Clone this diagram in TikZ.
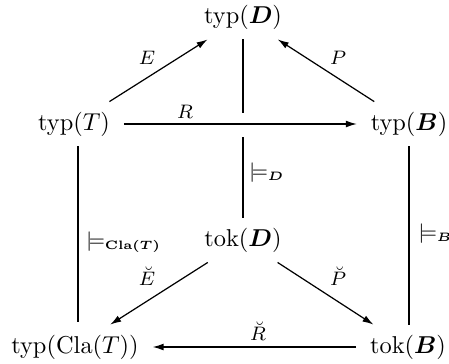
\documentclass[tikz,border=0pt]{standalone}
\usepackage{amsmath,amssymb,bm}
\usetikzlibrary{arrows.meta}
\begin{document}
\begin{tikzpicture}[x=0.41pt,y=-0.41pt,
  obj/.style={inner xsep=5.5pt,inner ysep=4pt},
  lab/.style={inner sep=0pt,font=\fontsize{7.8pt}{9pt}\selectfont},
  arr/.style={line width=0.5pt,-{Latex[length=4.5pt,width=2.8pt]}},
  bar/.style={line width=0.5pt}]
\useasboundingbox (0,0) rectangle (449,363);
% objects
\node[obj] (typD) at (243,17)  {typ$(\bm{D})$};
\node[obj] (typT) at (74,124)  {typ$(T)$};
\node[obj] (typB) at (409,124) {typ$(\bm{B})$};
\node[obj] (tokD) at (243,240) {tok$(\bm{D})$};
\node[obj] (claT) at (75,347)  {typ$(\mathrm{Cla}(T))$};
\node[obj] (tokB) at (408,347) {tok$(\bm{B})$};
% ends of the broken vertical line where it passes under R
\coordinate (gapT) at (243,113);
\coordinate (gapB) at (243,137);
% foot points of the left vertical line
\coordinate (lT) at (78,146);
\coordinate (lC) at (78,322);
% upper triangle
\draw[arr] (typT) -- (typD);
\draw[arr] (typB) -- (typD);
\draw[arr] (typT) -- (typB);
\node[lab] (lE) at (147,58)  {$E$};
\node[lab] (lP) at (338,58)  {$P$};
\node[lab] (lR) at (185,112) {$R$};
% satisfaction relations
\draw[bar] (typD) -- (gapT);
\draw[bar] (gapB) -- (tokD);
\node[lab,anchor=west] (mD) at (249,173) {$\models_{\bm{D}}$};
\draw[bar] (lT) -- (lC);
\node[lab,anchor=west] (mC) at (86,242) {$\models_{\bm{\mathrm{Cla}(T)}}$};
\draw[bar] (typB.south) -- (typB.south |- tokB.north);
\node[lab,anchor=west] (mB) at (418,234) {$\models_{\bm{B}}$};
% lower triangle
\draw[arr] (tokD) -- (claT);
\draw[arr] (tokD) -- (tokB);
\draw[arr] (tokB) -- (claT);
\node[lab] (lEc) at (147,276) {$\breve{E}$};
\node[lab] (lPc) at (338,276) {$\breve{P}$};
\node[lab] (lRc) at (258,331) {$\breve{R}$};
\end{tikzpicture}
\end{document}
